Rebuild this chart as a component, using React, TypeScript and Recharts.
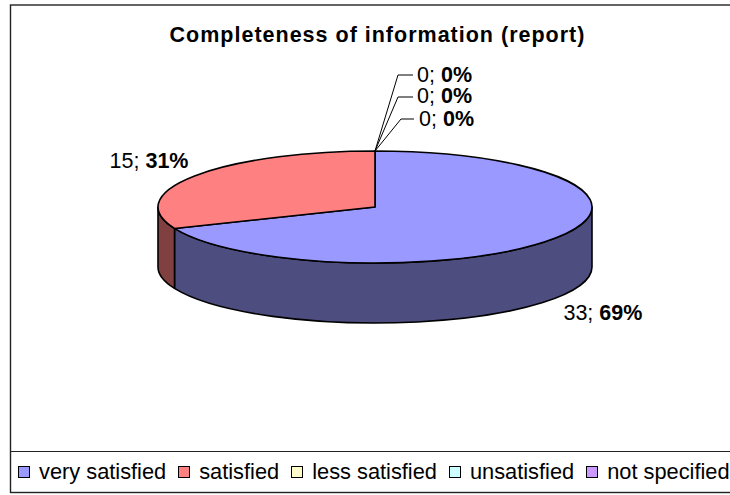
import { Legend, Pie, PieChart } from "recharts";

const categories = ["very satisfied", "satisfied", "less satisfied", "unsatisfied", "not specified"];
const counts = [33, 15, 0, 0, 0];
const topColors = ["#9999FF", "#FF8080", "#FFFFCC", "#CCFFFF", "#CC99FF"];
const wallColors = ["#4D4D80", "#804040", "#808066", "#668080", "#664D80"];

const chartData = categories.map((name, i) => ({
  name,
  value: counts[i],
  fill: topColors[i],
  wall: wallColors[i],
}));

const FONT = "'Liberation Sans', Arial, sans-serif";

// tilt of the fake 3D disc
const SQUASH = 56 / 217;
const DEPTH = 60;

// label placement relative to the slice's rim point
const labelOffsets = [
  { dx: 8, dy: 82 },
  { dx: -85, dy: -8 },
  { dx: 42, dy: -69 },
  { dx: 42, dy: -48 },
  { dx: 44, dy: -25 },
];
const leaderEnds = [
  null,
  null,
  { x: 23, y: -76, len: 15 },
  { x: 23, y: -54, len: 15 },
  { x: 26, y: -32, len: 13 },
];

function rim(cx: number, cy: number, r: number, deg: number) {
  const rad = (deg * Math.PI) / 180;
  return { x: cx + r * Math.cos(rad), y: cy - r * SQUASH * Math.sin(rad) };
}

// Recharts gives us the angles, we squash the sector to an ellipse and add a wall
function DiscSlice(props: any) {
  const { cx, cy, outerRadius: r, startAngle, endAngle, fill, wall } = props;
  if (startAngle === endAngle) return null;
  const ry = r * SQUASH;
  const a = rim(cx, cy, r, startAngle);
  const b = rim(cx, cy, r, endAngle);
  const large = Math.abs(startAngle - endAngle) > 180 ? 1 : 0;

  const wallFrom = Math.min(startAngle, 0);
  const wallTo = Math.max(endAngle, -180);
  let wallPath = null;
  if (wallFrom > wallTo) {
    const p = rim(cx, cy, r, wallFrom);
    const q = rim(cx, cy, r, wallTo);
    const wallLarge = wallFrom - wallTo > 180 ? 1 : 0;
    wallPath =
      `M${p.x},${p.y} A${r},${ry} 0 ${wallLarge} 1 ${q.x},${q.y} ` +
      `L${q.x},${q.y + DEPTH} A${r},${ry} 0 ${wallLarge} 0 ${p.x},${p.y + DEPTH} Z`;
  }

  return (
    <g>
      {wallPath && <path d={wallPath} fill={wall} stroke="#000" strokeWidth={1.6} strokeLinejoin="round" />}
      <path
        d={`M${cx},${cy} L${a.x},${a.y} A${r},${ry} 0 ${large} 1 ${b.x},${b.y} Z`}
        fill={fill}
        stroke="#000"
        strokeWidth={1.6}
        strokeLinejoin="round"
      />
    </g>
  );
}

function SliceLabel(props: any) {
  const { cx, cy, outerRadius, midAngle, value, percent, index } = props;
  const p = rim(cx, cy, outerRadius, midAngle);
  const off = labelOffsets[index];
  const lead = leaderEnds[index];
  return (
    <g>
      {lead && (
        <polyline
          points={`${p.x},${p.y} ${p.x + lead.x},${p.y + lead.y} ${p.x + lead.x + lead.len},${p.y + lead.y}`}
          fill="none"
          stroke="#000"
          strokeWidth={1}
        />
      )}
      <text x={p.x + off.dx} y={p.y + off.dy} fontFamily={FONT} fontSize={21.5} fill="#000">
        {value}; <tspan fontWeight="bold">{Math.round(percent * 100)}%</tspan>
      </text>
    </g>
  );
}

function LegendRow({ payload }: any) {
  return (
    <div
      style={{
        display: "flex",
        alignItems: "center",
        height: 41,
        paddingLeft: 18,
        whiteSpace: "nowrap",
        fontFamily: FONT,
        fontSize: 21.8,
        color: "#000",
      }}
    >
      {(payload || []).map((item: any, i: number) => (
        <span
          key={item.value}
          style={{ display: "inline-flex", alignItems: "center", marginRight: i < payload.length - 1 ? 12 : 0 }}
        >
          <span
            style={{
              width: 10,
              height: 10,
              marginRight: 9,
              background: item.color,
              border: "1.5px solid #000",
            }}
          />
          {item.value}
        </span>
      ))}
    </div>
  );
}

export default function App() {
  return (
    <div style={{ position: "absolute", left: 0, top: 0, width: 730, height: 495, background: "#fff" }}>
      <PieChart width={730} height={495} margin={{ top: 0, right: 0, bottom: 0, left: 0 }}>
        <rect x={10.5} y={5} width={730} height={487.5} fill="#fff" stroke="#222" strokeWidth={1.4} />
        <line x1={10.5} x2={730} y1={451.5} y2={451.5} stroke="#222" strokeWidth={1.2} />
        <text
          x={377.5}
          y={42}
          textAnchor="middle"
          fontFamily={FONT}
          fontSize={21.5}
          fontWeight="bold"
          letterSpacing={1}
          fill="#000"
        >
          Completeness of information (report)
        </text>
        <Pie
          data={chartData}
          dataKey="value"
          nameKey="name"
          cx={375}
          cy={207}
          outerRadius={217}
          startAngle={90}
          endAngle={-270}
          stroke="#000"
          shape={DiscSlice}
          label={SliceLabel}
          labelLine={false}
          isAnimationActive={false}
        />
        <Legend
          content={<LegendRow />}
          itemSorter={null}
          wrapperStyle={{ left: 0, top: 451, width: 730, height: 41 }}
        />
      </PieChart>
    </div>
  );
}
